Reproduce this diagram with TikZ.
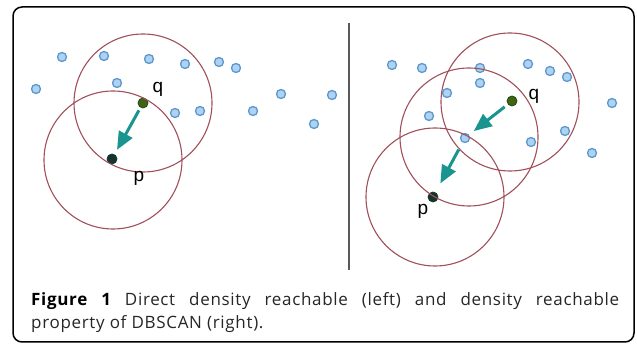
\documentclass[tikz,border=0pt]{standalone}
\usepackage{fontspec}
\setmainfont{Open Sans}
\newfontfamily\capfont[LetterSpace=4]{Open Sans}
\newfontfamily\lblfont{Liberation Sans}
\usetikzlibrary{arrows.meta}
\definecolor{ringcol}{RGB}{160,80,90}
\definecolor{ptfill}{RGB}{172,212,242}
\definecolor{ptline}{RGB}{95,150,205}
\definecolor{qcol}{RGB}{62,100,22}
\definecolor{pcol}{RGB}{22,52,45}
\definecolor{arrcol}{RGB}{25,148,143}
\tikzset{
  pt/.style={circle,draw=ptline,fill=ptfill,line width=1.3pt,minimum size=9pt,inner sep=0pt},
  qpt/.style={circle,draw=qcol!70!black,fill=qcol,line width=0.8pt,minimum size=10pt,inner sep=0pt},
  ppt/.style={circle,draw=pcol,fill=pcol,line width=0.8pt,minimum size=10pt,inner sep=0pt},
  ring/.style={draw=ringcol,line width=1.1pt},
  arr/.style={draw=arrcol,line width=3pt,-{Triangle[width=15pt,length=18pt]}},
  lbl/.style={font=\lblfont\fontsize{19}{20}\selectfont,inner sep=0pt},
}
\begin{document}
\begin{tikzpicture}[x=1pt,y=-1pt]
\useasboundingbox (0,0) rectangle (637,344);
\draw[line width=1.5pt,rounded corners=9pt] (13,7) rectangle (634,342);
\draw[line width=2pt,color=black!65] (349,23) -- (349,270);
% left panel
\foreach \x/\y [count=\i] in {62/57,104/56,149/59,185/64,219/62,236/68,36/89,117/83,175/113,200/111,253/111,281/94,332/95,314/124}
  \node[pt] (l\i) at (\x,\y) {};
\node[qpt] (q1) at (143,103) {};
\node[ppt] (p1) at (112,159) {};
\draw[ring] (q1.center) circle (69);
\draw[ring] (113,160) circle (69);
\node[lbl] (q1l) at (158,89) {q};
\node[lbl] (p1l) at (139,178) {p};
\draw[arr,shorten <=3pt,shorten >=5pt] (q1) -- (p1);
% right panel
\foreach \x/\y [count=\i] in {392/65,422/68,480/68,528/64,550/71,567/77,480/83,447/93,429/116,531/142,565/131,612/103,592/153}
  \node[pt] (r\i) at (\x,\y) {};
\node[pt] (m2) at (465,138) {};
\node[qpt] (q2) at (512,101) {};
\node[ppt] (p2) at (433,197) {};
\draw[ring] (510,102) circle (69);
\draw[ring] (469,137) circle (69);
\draw[ring] (435,197) circle (69);
\node[lbl] (q2l) at (534,96) {q};
\node[lbl] (p2l) at (423,211) {p};
\draw[arr,shorten <=4pt,shorten >=6pt] (q2) -- (m2);
\draw[arr,shorten <=8pt,shorten >=10pt] (m2) -- (p2);
% caption
\node[anchor=north west,inner sep=0pt,text width=588pt,align=justify,
      font=\capfont\fontsize{17}{23}\selectfont,text=black!85] (cap) at (31,292)
  {\textbf{\color{black}Figure 1} Direct density reachable (left) and density reachable\linebreak property of DBSCAN (right).};
\end{tikzpicture}
\end{document}
